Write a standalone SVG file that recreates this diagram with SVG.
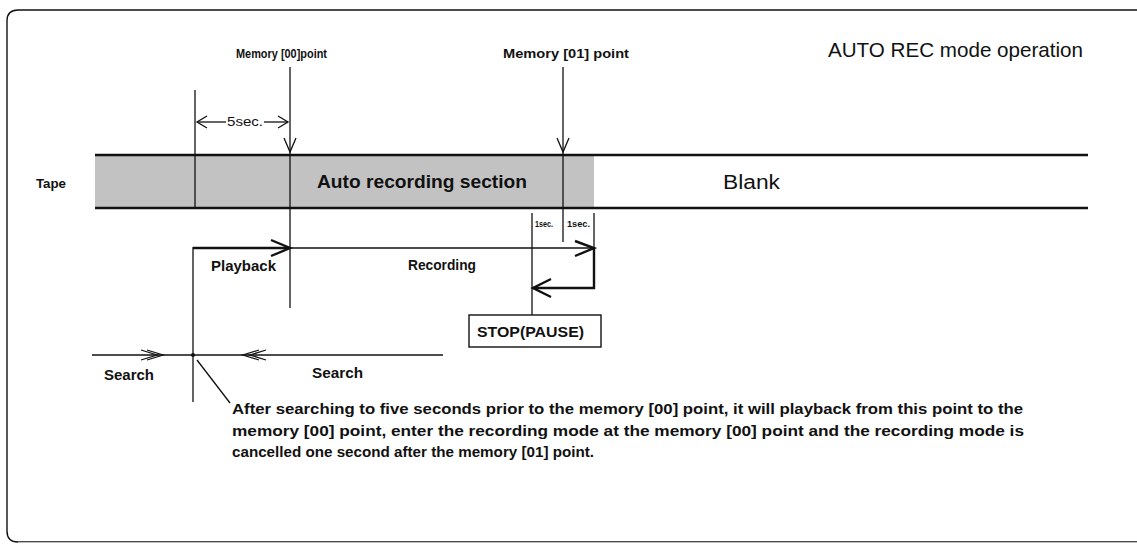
<svg xmlns="http://www.w3.org/2000/svg" width="1137" height="545" viewBox="0 0 1137 545">
<style>
.t{font-family:"Liberation Sans",Arial,sans-serif;fill:#111}
.b{font-weight:bold}
.ln{stroke:#111;stroke-width:1.3;fill:none}
.bd{stroke:#111;stroke-width:2.4;fill:none;stroke-linejoin:miter}
.tp{stroke:#111;stroke-width:2.6}
</style>
<rect width="1137" height="545" fill="#fff"/>
<g id="frame">
<path d="M1137,10 H18 Q7,10 7,21 V531 Q7,542 18,542 H1137" fill="none" stroke="#111" stroke-width="1.4"/>
<path d="M18,542.5 H1137" stroke="#bbb" stroke-width="1.2"/>
</g>
<g id="title"><text class="t" x="828" y="57" font-size="21" textLength="255" lengthAdjust="spacingAndGlyphs">AUTO REC mode operation</text></g>
<g id="tape">
<rect x="95" y="156" width="499" height="51" fill="#c2c2c2"/>
<line class="tp" x1="95" y1="155" x2="1088" y2="155"/>
<line class="tp" x1="95" y1="208" x2="1088" y2="208"/>
<text class="t b" x="36" y="188" font-size="12.5" textLength="30" lengthAdjust="spacingAndGlyphs">Tape</text>
<text class="t b" x="317" y="188" font-size="17.5" textLength="210" lengthAdjust="spacingAndGlyphs">Auto recording section</text>
<text class="t" x="723" y="189" font-size="20" textLength="57" lengthAdjust="spacingAndGlyphs">Blank</text>
</g>
<g id="memory00">
<text class="t b" x="236" y="58" font-size="12.5" textLength="91" lengthAdjust="spacingAndGlyphs">Memory [00]point</text>
</g>
<g id="memory01">
<text class="t b" x="503" y="58" font-size="13" textLength="126" lengthAdjust="spacingAndGlyphs">Memory [01] point</text>
</g>
<g id="fivesec">
<text class="t" x="227" y="126" font-size="13" textLength="36" lengthAdjust="spacingAndGlyphs">5sec.</text>
</g>
<g id="onesec">
<text class="t b" x="535" y="227" font-size="8.5" textLength="18" lengthAdjust="spacingAndGlyphs">1sec.</text>
<text class="t b" x="567" y="227" font-size="8.5" textLength="23" lengthAdjust="spacingAndGlyphs">1sec.</text>
</g>
<g id="playback"><text class="t b" x="211" y="271" font-size="14.5" textLength="65" lengthAdjust="spacingAndGlyphs">Playback</text></g>
<g id="recording"><text class="t b" x="408" y="270" font-size="14" textLength="68" lengthAdjust="spacingAndGlyphs">Recording</text></g>
<g id="stop">
<rect x="469" y="315" width="132" height="32" fill="#fff" stroke="#111" stroke-width="1.4"/>
<text class="t b" x="477" y="337" font-size="15.5" textLength="107" lengthAdjust="spacingAndGlyphs">STOP(PAUSE)</text>
</g>
<g id="search">
<text class="t b" x="104" y="380" font-size="14.5" textLength="50" lengthAdjust="spacingAndGlyphs">Search</text>
<text class="t b" x="312" y="378" font-size="14.5" textLength="51" lengthAdjust="spacingAndGlyphs">Search</text>
</g>
<g id="note">
<text class="t b" x="232" y="414" font-size="15.5" textLength="791" lengthAdjust="spacingAndGlyphs">After searching to five seconds prior to the memory [00] point, it will playback from this point to the</text>
<text class="t b" x="232" y="436" font-size="15.5" textLength="792" lengthAdjust="spacingAndGlyphs">memory [00] point, enter the recording mode at the memory [00] point and the recording mode is</text>
<text class="t b" x="232" y="457" font-size="15.5" textLength="362" lengthAdjust="spacingAndGlyphs">cancelled one second after the memory [01] point.</text>
</g>
<g id="connectors">
<line class="ln" x1="195" y1="90" x2="195" y2="208"/>
<line class="ln" x1="290" y1="67" x2="290" y2="308"/>
<polyline class="ln" points="284,138 290,152 296,138"/>
<line class="ln" x1="563" y1="67" x2="563" y2="242"/>
<polyline class="ln" points="557,138 563,152 569,138"/>
<line class="ln" x1="197" y1="122" x2="226" y2="122"/>
<polyline class="ln" points="207,116 197,122 207,128"/>
<line class="ln" x1="264" y1="122" x2="288" y2="122"/>
<polyline class="ln" points="278,116 288,122 278,128"/>
<line class="ln" x1="532" y1="213" x2="532" y2="315"/>
<line class="ln" x1="594" y1="213" x2="594" y2="248"/>
<line class="ln" x1="193" y1="247" x2="193" y2="402"/>
<line class="bd" x1="193" y1="248" x2="290" y2="248"/>
<polyline class="bd" points="271,240 290,248 271,256"/>
<line class="ln" x1="290" y1="248" x2="594" y2="248" stroke-width="1.6"/>
<polyline class="bd" points="575,241 594,248 575,256"/>
<polyline class="bd" points="594,248 594,288 533,288"/>
<polyline class="bd" points="551,279 533,288 551,297"/>
<line class="ln" x1="92" y1="355" x2="443" y2="355"/>
<polyline class="ln" points="141,350 157,355 141,360"/>
<polyline class="ln" points="147,350 163,355 147,360"/>
<polyline class="ln" points="259,350 243,355 259,360"/>
<polyline class="ln" points="266,350 250,355 266,360"/>
<circle cx="193" cy="355" r="2" fill="#111"/>
<line class="ln" x1="197" y1="360" x2="230" y2="403"/>
</g>
</svg>
